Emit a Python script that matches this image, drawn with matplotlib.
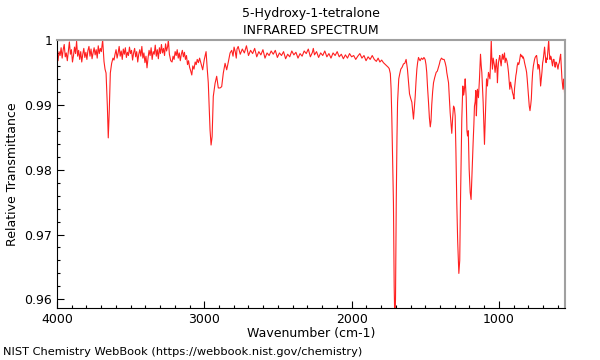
import matplotlib
matplotlib.use("Agg")
import matplotlib.pyplot as plt
from matplotlib.ticker import MultipleLocator, FixedLocator, FixedFormatter

# spectre (nombre d'onde en cm-1, transmittance relative)
wavenumber = [
    4000, 3993, 3986, 3979, 3972, 3965, 3958, 3951, 3944, 3937, 3930, 3923,
    3916, 3909, 3902, 3895, 3888, 3881, 3874, 3867, 3860, 3853, 3846, 3839,
    3832, 3825, 3818, 3811, 3804, 3797, 3790, 3783, 3776, 3769, 3762, 3755,
    3748, 3741, 3734, 3727, 3720, 3713, 3706, 3699, 3690, 3681, 3674, 3667,
    3658, 3652, 3645, 3638, 3629, 3620, 3613,
    3606, 3599, 3592, 3585, 3578, 3571, 3564, 3557, 3550, 3543, 3536, 3529,
    3522, 3515, 3508, 3501, 3494, 3487, 3480, 3473, 3466, 3459, 3452, 3445,
    3438, 3431, 3424, 3417, 3410, 3403, 3396, 3389, 3382, 3375, 3368, 3361,
    3354, 3347, 3340, 3333, 3326, 3319, 3312, 3305, 3298, 3291, 3284, 3277,
    3270, 3263, 3256, 3249, 3244, 3237, 3228, 3219, 3212, 3205, 3198, 3191,
    3184, 3177, 3170, 3163, 3156, 3149, 3142, 3135, 3128, 3121, 3114, 3107,
    3100, 3092, 3085, 3078, 3070, 3062, 3055, 3048, 3040, 3032, 3025, 3018,
    3011, 3000, 2988, 2980, 2973, 2961, 2954, 2947, 2939, 2927, 2916, 2905,
    2893, 2882, 2871, 2859, 2848, 2837, 2825, 2814, 2805, 2798, 2790, 2783,
    2778,
    2770, 2756, 2742, 2728, 2714, 2700, 2686, 2672, 2658, 2644, 2630, 2616,
    2602, 2588, 2574, 2560, 2546, 2532, 2518, 2504, 2490, 2476, 2462, 2448,
    2434, 2420, 2406, 2392, 2378, 2364, 2350, 2336, 2322, 2308, 2294, 2280,
    2266, 2260, 2252, 2238, 2224, 2210, 2196, 2182, 2168, 2154, 2140, 2126,
    2112, 2098, 2084, 2070, 2056, 2042, 2028, 2014, 2000, 1986, 1972, 1958,
    1944, 1930, 1916, 1902, 1888, 1874, 1860, 1846, 1832, 1820, 1808, 1796,
    1784, 1770, 1761, 1752, 1745, 1737, 1732, 1727, 1722, 1716, 1711, 1707,
    1702, 1697, 1692, 1688, 1680, 1673, 1666, 1657, 1648, 1639, 1630, 1621,
    1614, 1607, 1599, 1591, 1585, 1580, 1574, 1568, 1563, 1557, 1552, 1546,
    1540, 1535, 1526, 1517, 1509, 1501, 1495, 1490, 1484, 1478, 1472, 1466,
    1461, 1456, 1450, 1444, 1436, 1426, 1418, 1410, 1404, 1399, 1390, 1381,
    1372, 1365, 1358, 1354, 1348, 1342, 1336, 1331, 1325, 1320, 1314, 1308,
    1302, 1297, 1292, 1286, 1280, 1272, 1266, 1261, 1256, 1252, 1248, 1245,
    1240, 1236, 1232, 1229, 1225, 1222, 1217, 1213, 1208, 1202, 1195, 1189,
    1182, 1175, 1170, 1166, 1161, 1157, 1153, 1149, 1146, 1139, 1132, 1125,
    1120, 1116, 1111, 1107, 1102, 1098, 1091, 1084, 1078, 1071, 1066, 1061,
    1056, 1052, 1048, 1044, 1039, 1034, 1030, 1026, 1021, 1017, 1013, 1010,
    1006, 1003, 998, 994, 990, 985, 980, 976, 971, 966, 962, 958, 952, 946,
    940, 935, 930, 926, 921, 917, 912, 908, 903, 898, 894, 890, 885, 881,
    876, 871, 866, 862, 857, 853, 848, 844, 839, 835, 830, 826, 821, 816,
    812, 808, 803, 798, 794, 789, 784, 780, 775, 771, 766, 762, 758, 754,
    749, 744, 740, 735, 730, 726, 721, 717, 712, 708, 703, 699, 694, 690,
    685, 680, 676, 672, 667, 662, 658, 653, 649, 645, 640, 636, 631, 626,
    622, 618, 613, 609, 604, 599, 595, 590, 586, 581, 577, 572, 568, 565,
    561, 558, 555, 552, 550,
]

transmittance = [
    .9975, .9968, .9982, .9976, .9988, .9972, .9985, .9993, .9974, .9980, .9968, .9983,
    .9997, .9978, .9985, .9966, .9976, .9989, .9979, .9998, .9975, .9984, .9970, .9982,
    .9966, .9978, .9987, .9973, .9981, .9970, .9984, .9990, .9975, .9986, .9971, .9980,
    .9988, .9977, .9985, .9972, .9991, .9979, .9987, .9982, 1.0000, .9967, .9955, .9949,
    .9897, .9849, .9892, .9949, .9964, .9972, .9969,
    .9978, .9985, .9972, .9980, .9990, .9975, .9983, .9970, .9986, .9978, .9988, .9973,
    .9981, .9976, .9989, .9979, .9984, .9969, .9980, .9987, .9974, .9982, .9966, .9978,
    .9985, .9975, .9990, .9972, .9980, .9965, .9975, .9957, .9972, .9984, .9976, .9988,
    .9970, .9982, .9978, .9992, .9975, .9985, .9971, .9988, .9979, .9993, .9980, .9987,
    .9976, .9994, .9983, .9990, 1.0000, .9978, .9968, .9966, .9975, .9970, .9982, .9976,
    .9985, .9972, .9980, .9968, .9978, .9984, .9974, .9981, .9970, .9976, .9962, .9968,
    .9958, .9952, .9946, .9960, .9955, .9966, .9962, .9970, .9965, .9972, .9966, .9960,
    .9954, .9970, .9982, .9955, .9934, .9861, .9838, .9851, .9913, .9933, .9944, .9926,
    .9926, .9928, .9949, .9964, .9954, .9966, .9980, .9984, .9975, .9989, .9982, .9972,
    .9986,
    .9990, .9978, .9986, .9980, .9991, .9976, .9984, .9979, .9987, .9974, .9982, .9977,
    .9985, .9972, .9980, .9976, .9983, .9978, .9984, .9973, .9980, .9976, .9982, .9971,
    .9978, .9974, .9983, .9977, .9981, .9972, .9979, .9975, .9983, .9979, .9986, .9974,
    .9981, .9987, .9977, .9982, .9973, .9980, .9976, .9983, .9974, .9979, .9972, .9980,
    .9976, .9982, .9974, .9978, .9971, .9977, .9972, .9979, .9974, .9976, .9970, .9975,
    .9979, .9972, .9976, .9968, .9974, .9970, .9976, .9970, .9967, .9972, .9966, .9969,
    .9965, .9962, .9960, .9958, .9956, .9948, .9925, .9880, .9820, .9749, .9620, .9570,
    .9600, .9749, .9850, .9904, .9940, .9948, .9955, .9958, .9963, .9964, .9970, .9955,
    .9935, .9917, .9910, .9904, .9890, .9878, .9895, .9914, .9935, .9955, .9965, .9973,
    .9970, .9968, .9972, .9970, .9973, .9970, .9962, .9950, .9925, .9904, .9880, .9866,
    .9875, .9900, .9920, .9934, .9942, .9950, .9952, .9958, .9963, .9968, .9972, .9970,
    .9970, .9965, .9958, .9950, .9942, .9934, .9910, .9888, .9870, .9856, .9880, .9898,
    .9895, .9883, .9830, .9749, .9690, .9640, .9660, .9749, .9820, .9878, .9905, .9929,
    .9915, .9920, .9930, .9940, .9925, .9911, .9860, .9852, .9860, .9801, .9765, .9754,
    .9800, .9842, .9870, .9898, .9905, .9922, .9883, .9910, .9924, .9911, .9940, .9978,
    .9960, .9950, .9925, .9904, .9870, .9839, .9888, .9940, .9929, .9950, .9945, .9940,
    .9970, 1.0000, .9970, .9955, .9972, .9965, .9960, .9950, .9962, .9970, .9955, .9934,
    .9955, .9965, .9972, .9976, .9968, .9960, .9972, .9978, .9970, .9976, .9980, .9965, .9972, .9968,
    .9960, .9950, .9935, .9924, .9935, .9930, .9925, .9919, .9915, .9909, .9925, .9934, .9945, .9950,
    .9960, .9965, .9962, .9965, .9972, .9978, .9975, .9976, .9972, .9974, .9970, .9965, .9960, .9955,
    .9950, .9940, .9925, .9909, .9898, .9891, .9900, .9909, .9935, .9950, .9960, .9965, .9970, .9973,
    .9975, .9976, .9968, .9955, .9962, .9960, .9945, .9929, .9940, .9950, .9965, .9970, .9980, .9989,
    .9975, .9965, .9972, .9970, .9985, 1.0000, .9980, .9970, .9975, .9973, .9965, .9960, .9970, .9970,
    .9962, .9958, .9966, .9965, .9960, .9955, .9962, .9965, .9972, .9978, .9960, .9940, .9930, .9924,
    .9935, .9940, .9920, .9906, .9910,
]

x_ticks = [4000, 3000, 2000, 1000]
y_ticks = [0.96, 0.97, 0.98, 0.99, 1.0]
y_labels = ["0.96", "0.97", "0.98", "0.99", "1"]

fig = plt.figure(figsize=(6, 3.6), dpi=100)
ax = fig.add_axes([0.095, 0.145, 0.847, 0.744])

ax.plot(wavenumber, transmittance, color="#ff2020", linewidth=0.8)

ax.set_xlim(4000, 550)
ax.set_ylim(0.9587, 1.0)

ax.xaxis.set_major_locator(FixedLocator(x_ticks))
ax.xaxis.set_minor_locator(MultipleLocator(100))
ax.yaxis.set_major_locator(FixedLocator(y_ticks))
ax.yaxis.set_major_formatter(FixedFormatter(y_labels))
ax.yaxis.set_minor_locator(MultipleLocator(0.002))

ax.tick_params(which="both", direction="in", top=False, right=False, labelsize=9)
ax.tick_params(which="major", length=5, width=0.8)
ax.tick_params(which="minor", length=2.5, width=0.8)

for s in ["top", "right"]:
    ax.spines[s].set_color("#a0a0a0")
    ax.spines[s].set_linewidth(1.5)
for s in ["left", "bottom"]:
    ax.spines[s].set_color("black")
    ax.spines[s].set_linewidth(0.8)

ax.set_title("5-Hydroxy-1-tetralone\nINFRARED SPECTRUM", fontsize=9, pad=4,
             linespacing=1.45)
ax.set_xlabel("Wavenumber (cm-1)", fontsize=9, labelpad=1)
ax.set_ylabel("Relative Transmittance", fontsize=9)

fig.text(0.005, 0.008, "NIST Chemistry WebBook (https://webbook.nist.gov/chemistry)",
         fontsize=8.2, ha="left", va="bottom")

fig.savefig("out.png", dpi=100)
